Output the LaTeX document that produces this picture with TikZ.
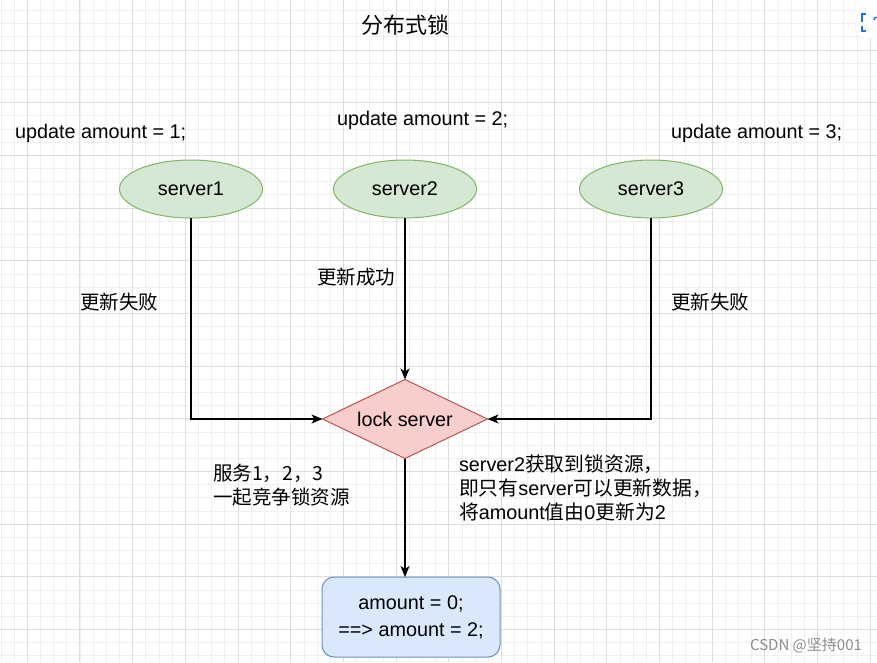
\documentclass[tikz,border=0pt]{standalone}
\usepackage{fontspec}
\setmainfont{Liberation Sans}
\newfontfamily\cjk{Noto Sans CJK SC}
\usetikzlibrary{arrows.meta,shapes.geometric}
\definecolor{srvfill}{HTML}{D5E8D4}
\definecolor{srvline}{HTML}{82B366}
\definecolor{lockfill}{HTML}{F8CECC}
\definecolor{lockline}{HTML}{B85450}
\definecolor{boxfill}{HTML}{DAE8FC}
\definecolor{boxline}{HTML}{6C8EBF}
\definecolor{gridminor}{HTML}{EFEFEF}
\definecolor{gridmajor}{HTML}{DDDDDD}
\definecolor{iconblue}{HTML}{1A73E8}
\begin{document}
\begin{tikzpicture}[x=1pt,y=-1pt,
  every node/.style={inner sep=0pt, outer sep=0pt},
  txt/.style={font=\fontsize{19.8}{24}\selectfont, text=black},
  cjktxt/.style={font=\cjk\fontsize{19.5}{24}\selectfont, text=black},
  srv/.style={ellipse, draw=srvline, fill=srvfill, line width=1pt, minimum width=143pt, minimum height=58pt, txt},
  lockbox/.style={diamond, aspect=2.09, draw=lockline, fill=lockfill, line width=1pt, minimum width=165pt, minimum height=79pt, txt},
  resbox/.style={rectangle, rounded corners=12pt, draw=boxline, fill=boxfill, line width=1pt, minimum width=178pt, minimum height=80pt, align=center, font=\fontsize{19.8}{27}\selectfont},
  conn/.style={draw=black, line width=1.3pt, -{Stealth[length=11pt,width=9pt,inset=3pt]}},
  minorline/.style={draw=gridminor, line width=0.8pt},
  majorline/.style={draw=gridmajor, line width=1pt}
]
\useasboundingbox (0,0) rectangle (877,662);
\begin{scope}
\clip (0,0) rectangle (877,662);
\fill[white] (0,0) rectangle (877,662);
\foreach \i in {0,...,67} \draw[minorline] ({1.0+13.17*\i},0) -- ++(0,662);
\foreach \i in {0,...,50} \draw[minorline] (0,{10.5+13.17*\i}) -- ++(877,0);
\foreach \i in {0,...,16} \draw[majorline] ({27.3+52.68*\i},0) -- ++(0,662);
\foreach \i in {1,...,13} \draw[majorline] (0,{-2.68+52.68*\i}) -- ++(877,0);
% corner icon
\fill[white, draw=black!8, rounded corners=10pt] (855,-6) rectangle (895,38);
\draw[iconblue, line width=2pt] (861.5,22) -- (861.5,14) -- (866,14);
\draw[iconblue, line width=2pt] (861.5,26) -- (861.5,31) -- (866,31);
\draw[iconblue, line width=1.5pt] (874,20) arc[start angle=180, end angle=100, radius=3pt];
\end{scope}

% title
\node[font=\cjk\fontsize{22}{26}\selectfont] (title) at (405,25) {分布式锁};

% servers
\node[srv] (s1) at (191,189) {server1};
\node[srv] (s2) at (405,189) {server2};
\node[srv] (s3) at (651,189) {server3};

% lock server
\node[lockbox] (lock) at (405,419) {lock server};

% result box
\node[resbox] (box) at (411,617) {amount = 0;\\==> amount = 2;};

% update labels
\node[txt, anchor=west] (u1) at (15,133) {update amount = 1;};
\node[txt, anchor=west] (u2) at (337,120) {update amount = 2;};
\node[txt, anchor=west] (u3) at (671,133) {update amount = 3;};

% connector labels
\node[cjktxt, anchor=west] (l1) at (80,302) {更新失败};
\node[cjktxt, anchor=west] (l2) at (317,277) {更新成功};
\node[cjktxt, anchor=west] (l3) at (671,302) {更新失败};

% notes
\node[cjktxt, anchor=west, align=left] (n1) at (213,485) {服务1，2，3\\一起竞争锁资源};
\node[txt, anchor=west, align=left] (n2) at (459,488)
  {server2{\cjk 获取到锁资源，}\\{\cjk 即只有}server{\cjk 可以更新数据，}\\{\cjk 将}amount{\cjk 值由}0{\cjk 更新为}2};

% connectors
\draw[conn] (s1.south) |- (lock.west);
\draw[conn] (s2.south) -- (lock.north);
\draw[conn] (s3.south) |- (lock.east);
\draw[conn] (lock.south) -- (lock.south |- box.north);

% watermark
\node[font=\cjk\fontsize{15}{18}\selectfont, text=black!45] (wm) at (806,645) {CSDN @坚持001};
\end{tikzpicture}
\end{document}
